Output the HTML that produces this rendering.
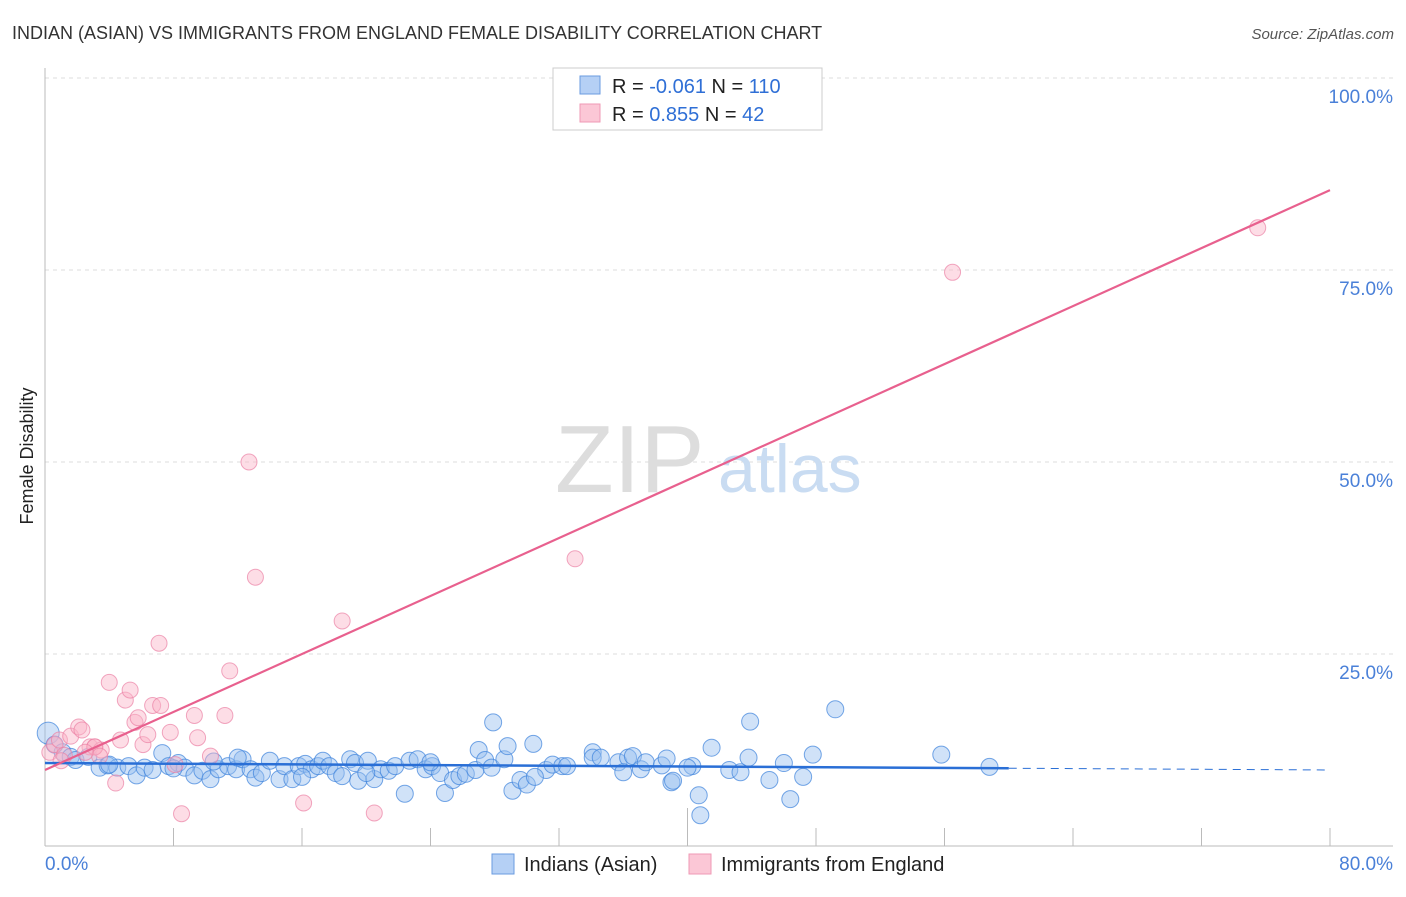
<!DOCTYPE html>
<html><head><meta charset="utf-8"><style>
body{margin:0;background:#fff;font-family:"Liberation Sans",sans-serif;}
svg text{font-family:"Liberation Sans",sans-serif;}
</style></head><body>
<svg width="1406" height="892" xmlns="http://www.w3.org/2000/svg">
<text x="12" y="39" font-size="18" fill="#333">INDIAN (ASIAN) VS IMMIGRANTS FROM ENGLAND FEMALE DISABILITY CORRELATION CHART</text>
<text x="1394" y="39" font-size="15" fill="#555" text-anchor="end" font-style="italic">Source: ZipAtlas.com</text>
<text x="33" y="456" font-size="18" fill="#222" text-anchor="middle" transform="rotate(-90 33 456)">Female Disability</text>
<g id="grid"></g>
<text x="555" y="492" font-size="96" fill="#ddd" font-family="Liberation Serif">ZIP</text>
<text x="718" y="492" font-size="68" fill="#c9dcf2">atlas</text>
<g id="pts"></g>
<g id="lines"></g>
<g>
<rect x="553" y="68" width="269" height="62" fill="#fff" stroke="#ccc"/>
<rect x="580" y="76" width="20" height="18" fill="#b5d0f5" stroke="#6a9be0"/>
<rect x="580" y="104" width="20" height="18" fill="#fbc7d6" stroke="#ef9ab5"/>
<text x="612" y="93" font-size="20" fill="#222">R = <tspan fill="#2f6fd6">-0.061</tspan>   N = <tspan fill="#2f6fd6">110</tspan></text>
<text x="612" y="121" font-size="20" fill="#222">R =  <tspan fill="#2f6fd6">0.855</tspan>   N =  <tspan fill="#2f6fd6"> 42</tspan></text>
</g>
<g>
<rect x="492" y="854" width="22" height="20" fill="#b5d0f5" stroke="#6a9be0"/>
<text x="524" y="871" font-size="20" fill="#222">Indians (Asian)</text>
<rect x="689" y="854" width="22" height="20" fill="#fbc7d6" stroke="#ef9ab5"/>
<text x="721" y="871" font-size="20" fill="#222">Immigrants from England</text>
</g>
</svg>
<script>
const xTicks=[0,8,16,24,32,40,48,56,64,72,80];
const yTicks=[25,50,75,100];
const yTickLabels=["25.0%","50.0%","75.0%","100.0%"];
const xLabels=["0.0%","80.0%"];
const blueX=[0.2,0.6,1.1,1.6,1.9,2.7,3.4,3.9,4.5,5.2,5.7,6.2,6.7,7.3,7.7,8.3,8.7,9.3,9.8,10.3,10.8,11.4,11.9,12.3,12.8,13.1,13.5,14.0,14.6,14.9,15.4,15.8,16.2,16.6,17.0,17.3,17.7,18.1,18.5,19.0,19.3,19.5,20.1,20.5,20.9,21.4,21.8,22.4,22.7,23.2,23.7,24.1,24.6,24.9,25.4,25.8,26.2,26.8,27.0,27.4,27.8,27.9,28.6,28.8,29.1,29.6,30.0,30.4,31.2,31.6,32.2,32.5,34.1,34.1,34.6,35.7,36.3,36.6,37.1,37.4,38.4,38.7,39.0,39.1,40.3,40.7,40.8,41.5,42.6,43.3,43.8,43.9,45.1,46.4,47.2,47.8,49.2,55.8,58.8,10.5,12.0,20.0,30.5,40.0,46.0,36.0,24.0,16.0,8.0,4.0];
const blueY=[14.7,13.2,12.2,11.6,11.2,11.6,10.2,10.5,10.2,10.4,9.2,10.2,9.9,12.1,10.4,10.8,10.2,9.2,9.8,8.7,10.0,10.4,10.0,11.3,10.0,8.9,9.5,11.1,8.7,10.4,8.7,10.4,10.7,10.0,10.4,11.1,10.4,9.5,9.1,11.3,10.8,8.5,11.1,8.7,10.0,9.8,10.4,6.8,11.1,11.3,10.0,10.4,9.5,6.9,8.6,9.1,9.4,9.9,12.5,11.2,10.2,16.1,11.3,13.0,7.2,8.6,8.0,13.3,9.9,10.6,10.4,10.4,12.2,11.5,11.5,10.9,11.5,11.7,10.0,10.9,10.5,11.4,8.3,8.5,10.4,6.6,4.0,12.8,9.9,9.6,11.5,16.2,8.6,6.1,9.0,11.9,17.8,11.9,10.3,11.0,11.5,9.5,9.0,10.2,10.8,9.6,10.9,9.0,10.1,10.6];
const pinkX=[0.3,0.6,0.9,1.2,1.6,2.1,2.3,2.8,3.1,3.5,4.0,4.4,4.7,5.0,5.3,5.6,5.8,6.1,6.4,6.7,7.2,7.1,7.8,8.1,8.5,9.3,9.5,10.3,11.2,11.5,12.7,13.1,16.1,18.5,20.5,33.0,56.5,75.5,3.1,1.0,3.4,2.5];
const pinkY=[12.2,13.2,13.8,11.8,14.3,15.5,15.1,12.9,12.9,12.5,21.3,8.2,13.8,19.0,20.3,16.1,16.7,13.2,14.5,18.3,18.3,26.4,14.8,10.6,4.2,17.0,14.1,11.7,17.0,22.8,50.0,35.0,5.6,29.3,4.3,37.4,74.7,80.5,12.9,11.1,11.7,12.2];
const blueTrend=[10.8,9.9];
const pinkTrend=[9.9,85.4];
const NS="http://www.w3.org/2000/svg";
const X=v=>45+v/80*1285, Y=v=>846-v/100*768;
function mk(tag,attrs,parent){const e=document.createElementNS(NS,tag);for(const k in attrs)e.setAttribute(k,attrs[k]);parent.appendChild(e);return e;}
const grid=document.getElementById('grid');
yTicks.forEach((t,i)=>{
 const l=mk('line',{x1:45,x2:1393,y1:Y(t),y2:Y(t),stroke:'#ddd','stroke-dasharray':'4,4'},grid);
 
 
 const tx=mk('text',{x:1393,y:Y(t)+25,'font-size':19,fill:'#4a80d8','text-anchor':'end'},grid);
 tx.textContent=yTickLabels[i];
 
 
});
const ax=mk('line',{x1:45,x2:45,y1:68,y2:846,stroke:'#bbb'},grid);


const bx=mk('line',{x1:45,x2:1393,y1:846,y2:846,stroke:'#bbb'},grid);


xTicks.forEach((t,i)=>{
 const tk=mk('line',{x1:X(t),x2:X(t),y1:i==5?808:828,y2:846,stroke:'#bbb'},grid);
 
 
});
[[0,'start',45],[80,'end',1393]].forEach((d,i)=>{
 const tx=mk('text',{x:d[2],y:870,'font-size':19,fill:'#4a80d8','text-anchor':d[1]},grid);
 tx.textContent=xLabels[i];
 
 
});
const pts=document.getElementById('pts');
blueX.forEach((v,i)=>{
 const c=mk('circle',{cx:X(v),cy:Y(blueY[i]),r:i==0?11:8.5,fill:'rgba(150,190,240,0.45)',stroke:'rgba(60,130,220,0.7)','stroke-width':1},pts);
 
 
});
pinkX.forEach((v,i)=>{
 const c=mk('circle',{cx:X(v),cy:Y(pinkY[i]),r:8,fill:'rgba(250,180,200,0.45)',stroke:'rgba(235,130,165,0.7)','stroke-width':1},pts);
 
 
});
const lines=document.getElementById('lines');
const bt=v=>blueTrend[0]+(blueTrend[1]-blueTrend[0])*v/80;
const b1=mk('line',{x1:X(0),y1:Y(bt(0)),x2:X(60),y2:Y(bt(60)),stroke:'#2a6fd6','stroke-width':2.5},lines);


const b2=mk('line',{x1:X(60),y1:Y(bt(60)),x2:X(80),y2:Y(bt(80)),stroke:'#2a6fd6','stroke-width':1,'stroke-dasharray':'8,6'},lines);


const p1=mk('line',{x1:X(0),y1:Y(pinkTrend[0]),x2:X(80),y2:Y(pinkTrend[1]),stroke:'#e8608e','stroke-width':2.2},lines);


</script>
</body></html>
